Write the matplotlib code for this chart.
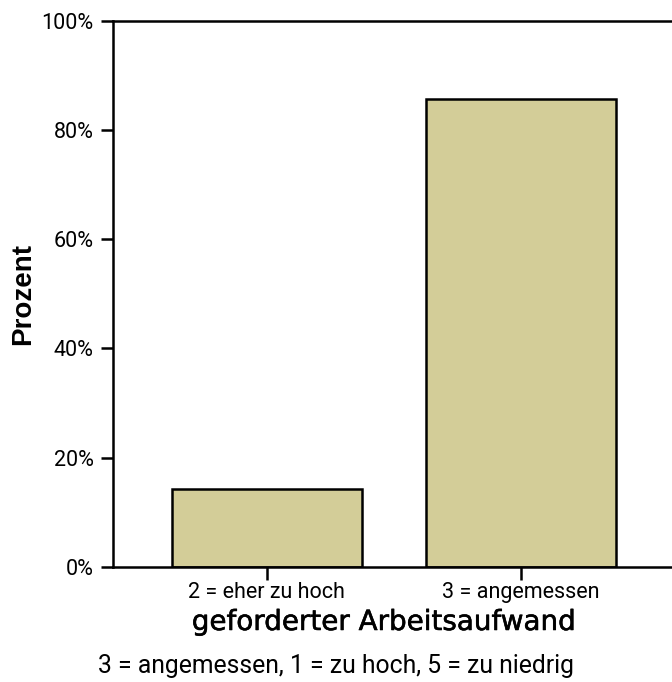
import matplotlib.pyplot as plt
import matplotlib.patheffects as pe
from matplotlib.ticker import PercentFormatter

# data
categories = ['2 = eher zu hoch', '3 = angemessen']
percent = [14.3, 85.7]
yticks = [0, 20, 40, 60, 80, 100]

narrow = ['Roboto', 'DejaVu Sans']

fig = plt.figure(figsize=(6.72, 6.82), dpi=100)
ax = fig.add_axes([0.168, 0.1686, 0.836, 0.8013])

x = range(len(categories))
ax.bar(x, percent, width=0.748, color='#d3cd98', edgecolor='black', linewidth=1.8, zorder=2)

ax.set_xlim(-0.606, 1.606)
ax.set_ylim(0, 100)
ax.set_yticks(yticks)
ax.yaxis.set_major_formatter(PercentFormatter(decimals=0))
ax.set_xticks(list(x))
ax.set_xticklabels(categories)

for s in ['left', 'bottom', 'top', 'right']:
    ax.spines[s].set_linewidth(1.8)
ax.tick_params(axis='both', direction='out', length=9, width=1.8, labelsize=15.5, pad=2)
ax.tick_params(axis='y', pad=5)
for lab in ax.get_xticklabels() + ax.get_yticklabels():
    lab.set_family(narrow)

ax.set_ylabel('Prozent', fontsize=20, fontweight='bold', family=['Liberation Sans', 'DejaVu Sans'])
ax.yaxis.set_label_coords(-0.137, 0.5)
xl = ax.set_xlabel('geforderter Arbeitsaufwand', fontsize=20, family=['DejaVu Sans'])
xl.set_path_effects([pe.withStroke(linewidth=0.4, foreground='black')])
ax.xaxis.set_label_coords(0.482, -0.075)

fig.text(0.5, 0.006, '3 = angemessen, 1 = zu hoch, 5 = zu niedrig', ha='center', va='bottom',
         fontsize=17.8, family=narrow)

fig.savefig('out.png', dpi=100)
